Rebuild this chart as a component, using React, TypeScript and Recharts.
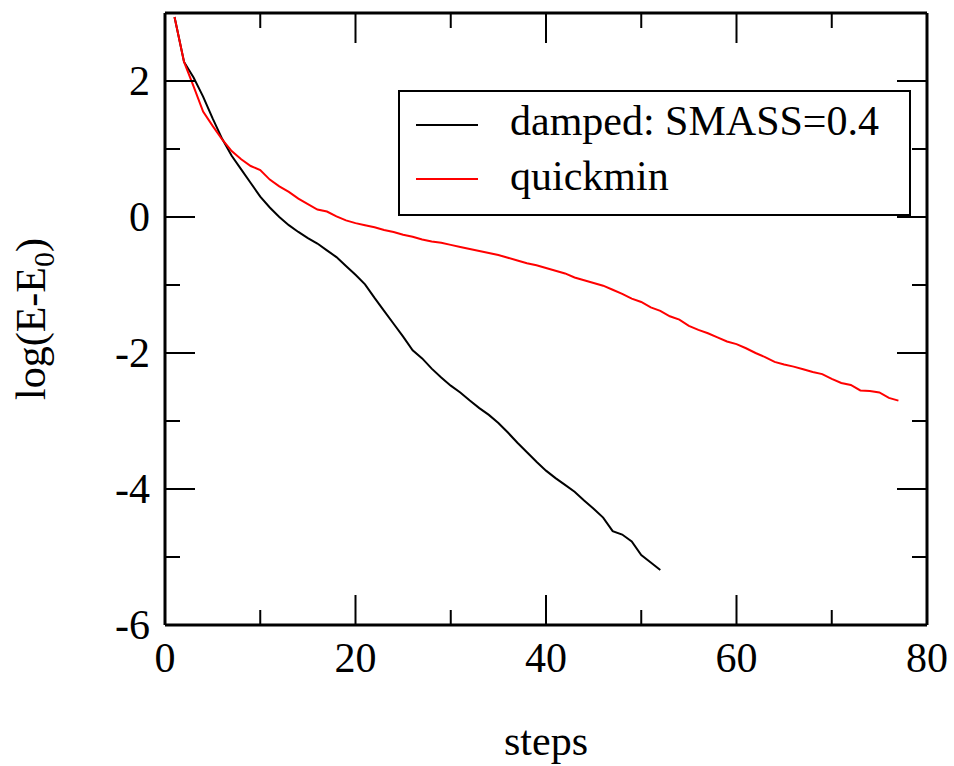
import { LineChart, Line, XAxis, YAxis, Legend, Label } from "recharts";

// energy convergence, log(E - E0) per ionic step
const dampedEnergy = [
  2.94, 2.28, 2.05, 1.77, 1.45, 1.15, 0.9, 0.7, 0.5, 0.3,
  0.14, 0.0, -0.12, -0.22, -0.31, -0.39, -0.49, -0.59, -0.72, -0.85,
  -0.99, -1.19, -1.38, -1.57, -1.76, -1.96, -2.08, -2.23, -2.36, -2.48,
  -2.58, -2.7, -2.81, -2.91, -3.03, -3.17, -3.32, -3.46, -3.6, -3.73,
  -3.84, -3.94, -4.04, -4.17, -4.29, -4.42, -4.62, -4.67, -4.77, -4.97,
  -5.08, -5.19,
];

const quickminEnergy = [
  2.94, 2.28, 1.92, 1.55, 1.34, 1.14, 0.97, 0.85, 0.75, 0.69,
  0.55, 0.45, 0.37, 0.27, 0.19, 0.11, 0.08, 0.01, -0.05, -0.09,
  -0.12, -0.15, -0.19, -0.22, -0.26, -0.29, -0.33, -0.36, -0.38, -0.41,
  -0.44, -0.47, -0.5, -0.53, -0.56, -0.6, -0.64, -0.68, -0.71, -0.75,
  -0.79, -0.83, -0.89, -0.93, -0.97, -1.01, -1.07, -1.13, -1.2, -1.25,
  -1.33, -1.38, -1.46, -1.51, -1.6, -1.66, -1.71, -1.77, -1.83, -1.87,
  -1.93, -2.0, -2.06, -2.13, -2.17, -2.2, -2.24, -2.28, -2.31, -2.38,
  -2.44, -2.47, -2.55, -2.56, -2.58, -2.66, -2.7,
];

const xTicks = [0, 10, 20, 30, 40, 50, 60, 70, 80];
const xLabelTicks = [0, 20, 40, 60, 80];
const yTicks = [-6, -5, -4, -3, -2, -1, 0, 1, 2, 3];
const yLabelTicks = [-6, -4, -2, 0, 2];

const dampedData = dampedEnergy.map((v, i) => ({ step: i + 1, value: v }));
const quickminData = quickminEnergy.map((v, i) => ({ step: i + 1, value: v }));

const FONT = '"Liberation Serif", "Times New Roman", serif';
const FS = 42;

function BottomTick(props: any) {
  const { x, y, payload } = props;
  const major = xLabelTicks.includes(payload.value);
  return (
    <g>
      <line x1={x} y1={y} x2={x} y2={y - (major ? 30 : 15)} stroke="#000" strokeWidth={2} />
      {major && (
        <text x={x} y={y + 47} textAnchor="middle" fontSize={FS} fontFamily={FONT} fill="#000">
          {payload.value}
        </text>
      )}
    </g>
  );
}

function TopTick(props: any) {
  const { x, y, payload } = props;
  const major = xLabelTicks.includes(payload.value);
  return <line x1={x} y1={y} x2={x} y2={y + (major ? 30 : 15)} stroke="#000" strokeWidth={2} />;
}

function LeftTick(props: any) {
  const { x, y, payload } = props;
  const major = yLabelTicks.includes(payload.value);
  return (
    <g>
      <line x1={x} y1={y} x2={x + (major ? 30 : 15)} y2={y} stroke="#000" strokeWidth={2} />
      {major && (
        <text x={x - 15} y={y} dy="0.34em" textAnchor="end" fontSize={FS} fontFamily={FONT} fill="#000">
          {payload.value}
        </text>
      )}
    </g>
  );
}

function RightTick(props: any) {
  const { x, y, payload } = props;
  const major = yLabelTicks.includes(payload.value);
  return <line x1={x} y1={y} x2={x - (major ? 30 : 15)} y2={y} stroke="#000" strokeWidth={2} />;
}

function YTitle(props: any) {
  const vb = props.viewBox || { y: 13, height: 612 };
  const cy = vb.y + vb.height / 2;
  return (
    <text
      x={45}
      y={cy}
      transform={`rotate(-90, 45, ${cy})`}
      textAnchor="middle"
      fontSize={FS}
      fontFamily={FONT}
      fill="#000"
    >
      log(E-E
      <tspan fontSize={30} dy={9}>0</tspan>
      <tspan dy={-9}>)</tspan>
    </text>
  );
}

function XTitle(props: any) {
  const vb = props.viewBox || { x: 165, width: 762 };
  return (
    <text x={vb.x + vb.width / 2} y={755} textAnchor="middle" fontSize={FS} fontFamily={FONT} fill="#000">
      steps
    </text>
  );
}

function LegendBox({ payload }: any) {
  const items = payload || [];
  return (
    <svg width={513} height={126} style={{ display: "block" }}>
      <rect x={1} y={1} width={511} height={124} fill="#fff" stroke="#000" strokeWidth={2} />
      {items.map((p: any, i: number) => (
        <g key={p.value}>
          <line x1={18} x2={80} y1={35 + i * 54} y2={35 + i * 54} stroke={p.color} strokeWidth={2} />
          <text x={112} y={45 + i * 55} fontSize={FS} fontFamily={FONT} fill="#000">
            {p.value}
          </text>
        </g>
      ))}
    </svg>
  );
}

export default function App() {
  return (
    <div style={{ position: "absolute", left: 0, top: 0, background: "#fff" }}>
      <LineChart width={954} height={766} margin={{ top: 3, right: 17, bottom: 81, left: 105 }}>
        <XAxis
          xAxisId="bottom"
          dataKey="step"
          type="number"
          domain={[0, 80]}
          allowDataOverflow
          ticks={xTicks}
          interval={0}
          height={60}
          tickSize={0}
          tickMargin={0}
          tickLine={false}
          tick={BottomTick}
          axisLine={{ stroke: "#000", strokeWidth: 3 }}
        >
          <Label content={XTitle} />
        </XAxis>
        <XAxis
          xAxisId="top"
          orientation="top"
          dataKey="step"
          type="number"
          domain={[0, 80]}
          allowDataOverflow
          ticks={xTicks}
          interval={0}
          height={10}
          tickSize={0}
          tickMargin={0}
          tickLine={false}
          tick={TopTick}
          axisLine={{ stroke: "#000", strokeWidth: 3 }}
        />
        <YAxis
          yAxisId="left"
          type="number"
          domain={[-6, 3]}
          allowDataOverflow
          ticks={yTicks}
          interval={0}
          width={60}
          tickSize={0}
          tickMargin={0}
          tickLine={false}
          tick={LeftTick}
          axisLine={{ stroke: "#000", strokeWidth: 3 }}
        >
          <Label content={YTitle} />
        </YAxis>
        <YAxis
          yAxisId="right"
          orientation="right"
          type="number"
          domain={[-6, 3]}
          allowDataOverflow
          ticks={yTicks}
          interval={0}
          width={10}
          tickSize={0}
          tickMargin={0}
          tickLine={false}
          tick={RightTick}
          axisLine={{ stroke: "#000", strokeWidth: 3 }}
        />
        <Legend
          layout="vertical"
          align="center"
          verticalAlign="middle"
          content={LegendBox}
          wrapperStyle={{ left: 398, top: 90, width: 513, height: 126 }}
        />
        <Line
          xAxisId="bottom"
          yAxisId="left"
          data={dampedData}
          dataKey="value"
          name="damped: SMASS=0.4"
          type="linear"
          stroke="#000000"
          strokeWidth={2}
          dot={false}
          activeDot={false}
          isAnimationActive={false}
        />
        <Line
          xAxisId="bottom"
          yAxisId="left"
          data={quickminData}
          dataKey="value"
          name="quickmin"
          type="linear"
          stroke="#ff0000"
          strokeWidth={2}
          dot={false}
          activeDot={false}
          isAnimationActive={false}
        />
      </LineChart>
    </div>
  );
}
